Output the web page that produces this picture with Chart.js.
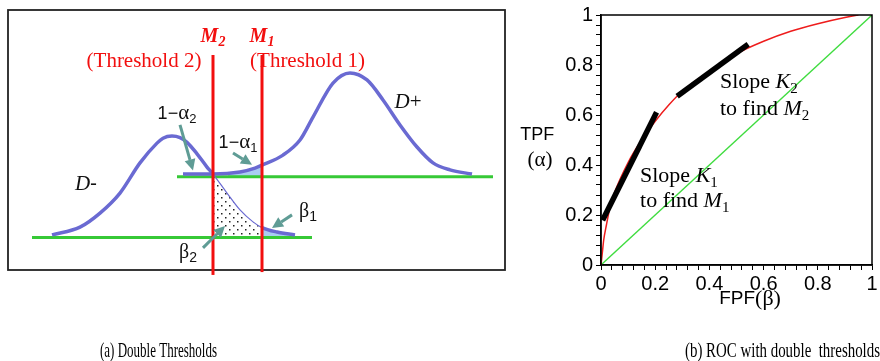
<!DOCTYPE html>
<html>
<head>
<meta charset="utf-8">
<script src="https://cdn.jsdelivr.net/npm/chart.js@4/dist/chart.umd.min.js"></script>
<style>
  html, body { margin: 0; padding: 0; background: #fff; }
  body { width: 880px; height: 361px; position: relative; overflow: hidden; }
  #left { position: absolute; left: 0; top: 0; }
  #right { position: absolute; left: 510px; top: 0; }
</style>
</head>
<body>
<canvas id="left" width="520" height="361"></canvas>
<canvas id="right" width="370" height="361"></canvas>
<script>
// ---- (a) double thresholds: two score distributions ----
// D- (negatives), lower baseline at 0
const dNegX = [0.88, 1.44, 1.84, 2.24, 2.64, 2.98, 3.10, 3.28, 3.44, 3.58, 3.78, 3.98, 4.10, 4.38, 4.64, 4.90, 5.08, 5.38, 5.74];
const dNegY = [0.10, 0.40, 0.94, 1.71, 2.87, 3.63, 3.82, 3.90, 3.84, 3.66, 3.22, 2.71, 2.44, 1.71, 1.06, 0.60, 0.38, 0.21, 0.10];
// D+ (positives), upper baseline
const dPosX = [3.50, 4.10, 4.64, 4.94, 5.08, 5.50, 5.84, 6.10, 6.50, 6.84, 7.18, 7.50, 7.84, 8.18, 8.50, 8.84, 9.28];
const dPosY = [2.44, 2.44, 2.52, 2.67, 2.78, 3.17, 3.75, 4.63, 5.94, 6.33, 6.06, 5.29, 4.33, 3.48, 2.87, 2.60, 2.44];
const upperBase = 2.34;
const lowerBase = 0;
const lowerLineX = [0.48, 6.08];
const upperLineX = [3.38, 9.70];
// thresholds
const m2 = 4.10;
const m1 = 5.08;
const thrTop = 7.02;
const m2Bottom = -1.44;
const m1Bottom = -1.33;
// shaded areas (points on the curves)
const alpha1X = [4.40, 4.64, 4.94, 5.08];
const alpha1Y = [2.46, 2.52, 2.67, 2.78];
const beta2X = [4.10, 4.38, 4.64, 4.90, 5.08];
const beta2Y = [2.44, 1.71, 1.06, 0.60, 0.38];
const beta1X = [5.08, 5.38, 5.74];
const beta1Y = [0.38, 0.21, 0.10];
// arrows [x1, y1, x2, y2]
const arrows = [
  [3.44, 4.33, 3.70, 2.58],
  [4.50, 3.25, 4.88, 2.80],
  [5.68, 0.87, 5.28, 0.37],
  [3.90, -0.40, 4.34, 0.44]
];

// ---- (b) ROC ----
const rocFpf = [0, 0.005, 0.01, 0.02, 0.035, 0.05, 0.1, 0.15, 0.2, 0.25, 0.3, 0.4, 0.5, 0.6, 0.7, 0.8, 0.9, 0.95];
const rocTpf = [0, 0.05, 0.1, 0.16, 0.24, 0.29, 0.41, 0.5, 0.575, 0.64, 0.695, 0.775, 0.845, 0.895, 0.935, 0.965, 0.99, 1.0];
const chanceX = [0, 1];
const chanceY = [0, 1];
const slope1X = [0.006, 0.205];
const slope1Y = [0.179, 0.611];
const slope2X = [0.281, 0.543];
const slope2Y = [0.675, 0.883];
const rocTicks = ['0', '0.2', '0.4', '0.6', '0.8', '1'];

const pts = (xs, ys) => xs.map((x, i) => ({ x: x, y: ys[i] }));

const SERIF = '"Liberation Serif", "Times New Roman", serif';
const SANS = '"Liberation Sans", Arial, sans-serif';

function drawRich(ctx, parts, x, y, align) {
  let w = 0;
  parts.forEach(p => { ctx.font = p[1]; w += ctx.measureText(p[0]).width; });
  let cx = align === 'center' ? x - w / 2 : x;
  parts.forEach(p => {
    ctx.font = p[1];
    ctx.fillText(p[0], cx, y + (p[2] || 0));
    cx += ctx.measureText(p[0]).width;
  });
}

function drawArrow(ctx, x1, y1, x2, y2) {
  const a = Math.atan2(y2 - y1, x2 - x1);
  const hl = 11, hw = 5.5;
  const bx = x2 - hl * Math.cos(a), by = y2 - hl * Math.sin(a);
  ctx.beginPath();
  ctx.moveTo(x1, y1);
  ctx.lineTo(bx, by);
  ctx.stroke();
  ctx.beginPath();
  ctx.moveTo(x2, y2);
  ctx.lineTo(bx + hw * Math.sin(a), by - hw * Math.cos(a));
  ctx.lineTo(bx - hw * Math.sin(a), by + hw * Math.cos(a));
  ctx.closePath();
  ctx.fill();
}

// dotted pattern for beta2 area
const pc = document.createElement('canvas');
pc.width = 8; pc.height = 8;
const pg = pc.getContext('2d');
pg.fillStyle = '#fff';
pg.fillRect(0, 0, 8, 8);
pg.fillStyle = '#222';
pg.fillRect(1, 1, 1.5, 1.5);
pg.fillRect(5, 5, 1.5, 1.5);
const dots = pg.createPattern(pc, 'repeat');

const BLUE = '#6a6ad2';
const GREEN = '#36c936';
const RED = '#f20f0f';
const ARROW = '#5f9c95';

const leftLabels = [
  { x: m2, y: 7.52, color: RED, parts: [['M', 'bold italic 20px ' + SERIF], ['2', 'bold italic 14px ' + SERIF, 4]] },
  { x: m1, y: 7.52, color: RED, parts: [['M', 'bold italic 20px ' + SERIF], ['1', 'bold italic 14px ' + SERIF, 4]] },
  { x: 2.72, y: 6.56, color: RED, parts: [['(Threshold 2)', '21px ' + SERIF]] },
  { x: 5.99, y: 6.56, color: RED, parts: [['(Threshold 1)', '21px ' + SERIF]] },
  { x: 3.38, y: 4.56, color: '#111', parts: [['1\u2212', '18px ' + SANS], ['\u03b1', '21px ' + SERIF], ['2', '13px ' + SANS, 4]] },
  { x: 4.60, y: 3.44, color: '#111', parts: [['1\u2212', '18px ' + SANS], ['\u03b1', '21px ' + SERIF], ['1', '13px ' + SANS, 4]] },
  { x: 8.00, y: 4.98, color: '#111', parts: [['D', 'italic 21px ' + SERIF], ['+', '21px ' + SERIF]] },
  { x: 1.56, y: 1.83, color: '#111', parts: [['D', 'italic 21px ' + SERIF], ['-', '21px ' + SANS]] },
  { x: 6.00, y: 0.79, color: '#111', parts: [['\u03b2', '20px ' + SERIF], ['1', '14px ' + SANS, 4]] },
  { x: 3.60, y: -0.79, color: '#111', parts: [['\u03b2', '20px ' + SERIF], ['2', '14px ' + SANS, 4]] }
];

const leftDecor = {
  id: 'leftDecor',
  beforeDatasetsDraw(chart) {
    const { ctx, chartArea: a } = chart;
    ctx.save();
    ctx.strokeStyle = '#222';
    ctx.lineWidth = 1.8;
    ctx.strokeRect(a.left, a.top, a.right - a.left, a.bottom - a.top);
    ctx.restore();
  },
  afterDatasetsDraw(chart) {
    const { ctx } = chart;
    const xs = chart.scales.x, ys = chart.scales.y;
    ctx.save();
    ctx.strokeStyle = ARROW;
    ctx.fillStyle = ARROW;
    ctx.lineWidth = 3;
    arrows.forEach(r => drawArrow(ctx, xs.getPixelForValue(r[0]), ys.getPixelForValue(r[1]),
      xs.getPixelForValue(r[2]), ys.getPixelForValue(r[3])));
    ctx.textBaseline = 'alphabetic';
    leftLabels.forEach(l => {
      ctx.fillStyle = l.color;
      drawRich(ctx, l.parts, xs.getPixelForValue(l.x), ys.getPixelForValue(l.y), 'center');
    });
    ctx.fillStyle = '#000';
    ctx.font = '21px ' + SERIF;
    ctx.fillText('(a) Double Thresholds', 100, 357, 117);
    ctx.restore();
  }
};

const line = (data, color, width, order, extra) => Object.assign({
  data: data, showLine: true, borderColor: color, borderWidth: width,
  pointRadius: 0, fill: false, order: order
}, extra || {});

new Chart(document.getElementById('left'), {
  type: 'scatter',
  data: {
    datasets: [
      line(pts(alpha1X, alpha1Y), 'rgba(0,0,0,0)', 0, 9, { fill: { value: upperBase }, backgroundColor: '#a9cdf2', cubicInterpolationMode: 'monotone' }),
      line(pts(beta2X, beta2Y), 'rgba(0,0,0,0)', 0, 9, { fill: { value: lowerBase }, backgroundColor: dots, cubicInterpolationMode: 'monotone' }),
      line(pts(beta1X, beta1Y), 'rgba(0,0,0,0)', 0, 9, { fill: { value: lowerBase }, backgroundColor: '#a9cdf2', cubicInterpolationMode: 'monotone' }),
      line(pts(lowerLineX, [lowerBase, lowerBase]), GREEN, 3, 6),
      line(pts(upperLineX, [upperBase, upperBase]), GREEN, 3, 6),
      line(pts(dNegX, dNegY), BLUE, 3.5, 4, {
        cubicInterpolationMode: 'monotone',
        segment: { borderWidth: c => (c.p0.parsed.x >= m2 - 1e-6 && c.p1.parsed.x <= m1 + 1e-6) ? 1.2 : 3.5 }
      }),
      line(pts(dPosX, dPosY), BLUE, 3.5, 4, { cubicInterpolationMode: 'monotone' }),
      line(pts([m2, m2], [m2Bottom, thrTop]), RED, 3, 1, { clip: false }),
      line(pts([m1, m1], [m1Bottom, thrTop]), RED, 3, 1, { clip: false })
    ]
  },
  options: {
    responsive: false,
    animation: false,
    devicePixelRatio: 1,
    layout: { padding: { left: 8, top: 10, right: 15, bottom: 91 } },
    scales: {
      x: { type: 'linear', min: 0, max: 9.94, display: false },
      y: { type: 'linear', min: -1.25, max: 8.75, display: false }
    },
    plugins: { legend: { display: false }, tooltip: { enabled: false } }
  },
  plugins: [leftDecor]
});

// ---- right chart ----
const rightLabels = [
  { x: 0.439, y: 0.708, parts: [['Slope ', '22px ' + SERIF], ['K', 'italic 22px ' + SERIF], ['2', '15px ' + SERIF, 5]] },
  { x: 0.439, y: 0.600, parts: [['to find ', '22px ' + SERIF], ['M', 'italic 22px ' + SERIF], ['2', '15px ' + SERIF, 5]] },
  { x: 0.144, y: 0.332, parts: [['Slope ', '22px ' + SERIF], ['K', 'italic 22px ' + SERIF], ['1', '15px ' + SERIF, 5]] },
  { x: 0.144, y: 0.232, parts: [['to find ', '22px ' + SERIF], ['M', 'italic 22px ' + SERIF], ['1', '15px ' + SERIF, 5]] }
];

const rightDecor = {
  id: 'rightDecor',
  afterDatasetsDraw(chart) {
    const { ctx, chartArea: a } = chart;
    const xs = chart.scales.x, ys = chart.scales.y;
    ctx.save();
    ctx.strokeStyle = '#000';
    ctx.lineWidth = 1.5;
    ctx.strokeRect(a.left, a.top, a.right - a.left, a.bottom - a.top);
    ctx.fillStyle = '#000';
    ctx.textBaseline = 'alphabetic';
    rightLabels.forEach(l => drawRich(ctx, l.parts, xs.getPixelForValue(l.x), ys.getPixelForValue(l.y), 'left'));
    // axis titles
    ctx.textBaseline = 'middle';
    drawRich(ctx, [['TPF', '18px ' + SANS]], xs.getPixelForValue(-0.235), ys.getPixelForValue(0.52), 'center');
    drawRich(ctx, [['(\u03b1)', '21px ' + SERIF]], xs.getPixelForValue(-0.225), ys.getPixelForValue(0.42), 'center');
    drawRich(ctx, [['FPF', '19px ' + SANS], ['(\u03b2)', '22px ' + SERIF]], xs.getPixelForValue(0.55), a.bottom + 34, 'center');
    ctx.textBaseline = 'alphabetic';
    ctx.font = '21px ' + SERIF;
    ctx.fillText('(b) ROC with double  thresholds', 175, 357, 195);
    ctx.restore();
  }
};

const rocTickCb = v => {
  const k = v / 0.2;
  if (Math.abs(k - Math.round(k)) > 1e-6) return '';
  return rocTicks[Math.round(k)];
};

const axisCommon = {
  type: 'linear', min: 0, max: 1,
  grid: { drawOnChartArea: false, drawTicks: true, tickLength: 5, color: '#000', lineWidth: 1 },
  border: { display: true, color: '#000', width: 1.5 },
  ticks: { stepSize: 0.04, autoSkip: false, maxRotation: 0, color: '#000', font: { family: 'Liberation Sans', size: 20 }, callback: rocTickCb }
};

new Chart(document.getElementById('right'), {
  type: 'scatter',
  data: {
    datasets: [
      line(pts(chanceX, chanceY), '#3fdc3f', 1.3, 5),
      line(pts(rocFpf, rocTpf), '#ee1c1c', 1.5, 4, { cubicInterpolationMode: 'monotone' }),
      line(pts(slope1X, slope1Y), '#000', 5.5, 1, { borderCapStyle: 'butt' }),
      line(pts(slope2X, slope2Y), '#000', 5.5, 1, { borderCapStyle: 'butt' })
    ]
  },
  options: {
    responsive: false,
    animation: false,
    devicePixelRatio: 1,
    layout: { padding: { left: 0, top: 15, right: 8, bottom: 51 } },
    scales: {
      x: Object.assign({}, axisCommon, {
        ticks: Object.assign({}, axisCommon.ticks, { padding: 2 }),
        afterFit(s) { s.height = 45; }
      }),
      y: Object.assign({}, axisCommon, {
        ticks: Object.assign({}, axisCommon.ticks, { padding: 3 }),
        afterFit(s) { s.width = 91; }
      })
    },
    plugins: { legend: { display: false }, tooltip: { enabled: false } }
  },
  plugins: [rightDecor]
});
</script>
</body>
</html>
